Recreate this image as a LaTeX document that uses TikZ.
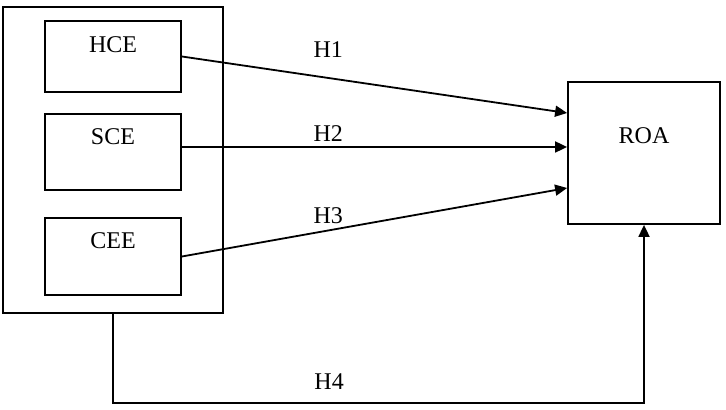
\documentclass[tikz,border=0pt]{standalone}
\usepackage{fontspec}
\setmainfont{Liberation Serif}
\usetikzlibrary{arrows.meta,positioning}
\tikzset{
  box/.style={draw, line width=0.9pt, minimum width=68pt, inner sep=0pt},
  boxtext/.style={inner sep=0pt, font=\fontsize{12}{14}\selectfont},
  lbl/.style={inner sep=0pt, font=\fontsize{12}{14}\selectfont},
  arr/.style={line width=0.9pt, -{Triangle[length=6pt,width=5.5pt]}}
}
\begin{document}
\begin{tikzpicture}[x=0.5pt, y=-0.5pt]
  \useasboundingbox (0,0) rectangle (726,410);
  \node[box, minimum width=110pt, minimum height=153pt] (grp) at (113,160) {};
  \node[box, minimum height=35.5pt] (hce) at (113,56.5) {};
  \node[box, minimum height=38pt] (sce) at (113,152) {};
  \node[box, minimum height=38.5pt] (cee) at (113,256.5) {};
  \node[box, minimum width=76pt, minimum height=71pt] (roa) at (644,153) {};
  \node[boxtext, below=8pt of hce.north] {HCE};
  \node[boxtext, below=7.5pt of sce.north] {SCE};
  \node[boxtext, below=7.5pt of cee.north] {CEE};
  \node[boxtext, below=23pt of roa.north] {ROA};
  \coordinate (r1) at ([yshift=20pt]roa.west);
  \coordinate (r2) at ([yshift=3pt]roa.west);
  \coordinate (r3) at ([yshift=-17.5pt]roa.west);
  \draw[arr] (hce.east) -- node[lbl, pos=0.38, above=10pt] {H1} (r1);
  \draw[arr] (sce.east |- r2) -- node[lbl, pos=0.38, above=2.5pt] {H2} (r2);
  \draw[arr] (cee.east) -- node[lbl, pos=0.38, above=3pt] {H3} (r3);
  \draw[arr] (grp.south) -- ++(0,89) -| node[lbl, pos=0.2035, above=6.5pt] {H4} (roa.south);
\end{tikzpicture}
\end{document}
